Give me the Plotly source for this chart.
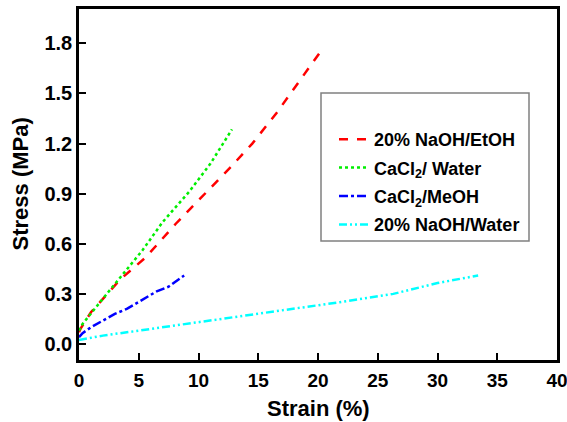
import plotly.graph_objects as go

# Data
red_x = [0, 0.15, 1, 2.1, 3.5, 5.6, 8.1, 10, 12.7, 14.5, 16.5, 18.5, 20.1]
red_y = [0.07, 0.094, 0.19, 0.28, 0.39, 0.52, 0.72, 0.86, 1.06, 1.2, 1.38, 1.58, 1.74]

green_x = [0, 0.3, 1.7, 3.5, 5.3, 7, 9.2, 11, 12.8]
green_y = [0.08, 0.12, 0.245, 0.4, 0.56, 0.73, 0.91, 1.08, 1.285]

blue_x = [0, 0.3, 1, 1.8, 3, 4, 5.2, 6.5, 7.5, 8.8]
blue_y = [0.04, 0.065, 0.1, 0.134, 0.18, 0.21, 0.26, 0.315, 0.343, 0.41]

cyan_x = [0, 2, 5, 8.4, 12, 16, 21.8, 26.3, 30, 33.4]
cyan_y = [0.024, 0.05, 0.08, 0.114, 0.15, 0.19, 0.25, 0.30, 0.365, 0.41]

names = ["20% NaOH/EtOH", "CaCl<sub>2</sub>/ Water", "CaCl<sub>2</sub>/MeOH", "20% NaOH/Water"]
colors = ["#ff0000", "#00ee00", "#0000ff", "#00ffff"]
dashes = ["dash", "dot", "dashdot", "8px,3px,2px,3px,2px,3px"]

xs = [red_x, green_x, blue_x, cyan_x]
ys = [red_y, green_y, blue_y, cyan_y]

x_ticks = [0, 5, 10, 15, 20, 25, 30, 35, 40]
y_ticks = [0.0, 0.3, 0.6, 0.9, 1.2, 1.5, 1.8]
y_tick_text = ["0.0", "0.3", "0.6", "0.9", "1.2", "1.5", "1.8"]

x_title = "Strain (%)"
y_title = "Stress (MPa)"

FONT = "Liberation Sans, Arial, sans-serif"

fig = go.Figure()
for i, (x, y, n, c, d) in enumerate(zip(xs, ys, names, colors, dashes)):
    fig.add_trace(go.Scatter(x=x, y=y, mode="lines", name=n, legendgroup=f"g{i}",
                             line=dict(color=c, width=2.5, dash=d)))

L, R, T, B = 79, 10, 9, 62
W, H = 567, 422
pw, ph = W - L - R, H - T - B

def px2paper_x(px):
    return (px - L) / pw

def px2paper_y(py):
    return (H - B - py) / ph

title_font = dict(family=FONT, size=22, color="black", weight="bold")

fig.update_layout(
    width=W, height=H,
    margin=dict(l=L, r=R, t=T, b=B, pad=0),
    paper_bgcolor="white", plot_bgcolor="white",
    font=dict(family=FONT, color="black"),
    showlegend=True,
    legend=dict(
        x=px2paper_x(334), y=px2paper_y(121), xanchor="left", yanchor="top",
        bgcolor="rgba(0,0,0,0)", borderwidth=0,
        font=dict(family=FONT, size=18, color="black", weight="bold"),
        tracegroupgap=2,
    ),
    shapes=[dict(type="rect", xref="paper", yref="paper",
                 x0=px2paper_x(321), x1=px2paper_x(529),
                 y0=px2paper_y(241), y1=px2paper_y(93),
                 line=dict(color="#808080", width=1.5), fillcolor="rgba(0,0,0,0)")],
    annotations=[
        dict(text=x_title, xref="paper", yref="paper", x=0.5, y=px2paper_y(408),
             xanchor="center", yanchor="middle", showarrow=False, font=title_font),
        dict(text=y_title, xref="paper", yref="paper", x=px2paper_x(20), y=0.5,
             xanchor="center", yanchor="middle", showarrow=False, textangle=-90, font=title_font),
    ],
)

fig.update_xaxes(
    range=[0, 40], tickvals=x_ticks, ticks="inside", ticklen=7, tickwidth=2,
    tickcolor="black", showline=True, linecolor="black", linewidth=2.5, mirror=True,
    showgrid=False, zeroline=False, automargin=False, ticklabeloverflow="allow",
    tickfont=dict(family=FONT, size=19, color="black", weight="bold"),
    ticklabelstandoff=1,
)
fig.update_yaxes(
    range=[-0.096, 2.006], tickvals=y_ticks, ticktext=y_tick_text, ticks="inside", ticklen=7,
    tickwidth=2, tickcolor="black", showline=True, linecolor="black", linewidth=2.5, mirror=True,
    showgrid=False, zeroline=False, automargin=False, ticklabeloverflow="allow",
    tickfont=dict(family=FONT, size=20, color="black", weight="bold"),
    ticklabelstandoff=0,
)

fig.write_html("out.html", config={"displayModeBar": False},
               post_script="document.body.style.margin='0';document.body.style.overflow='hidden';")
